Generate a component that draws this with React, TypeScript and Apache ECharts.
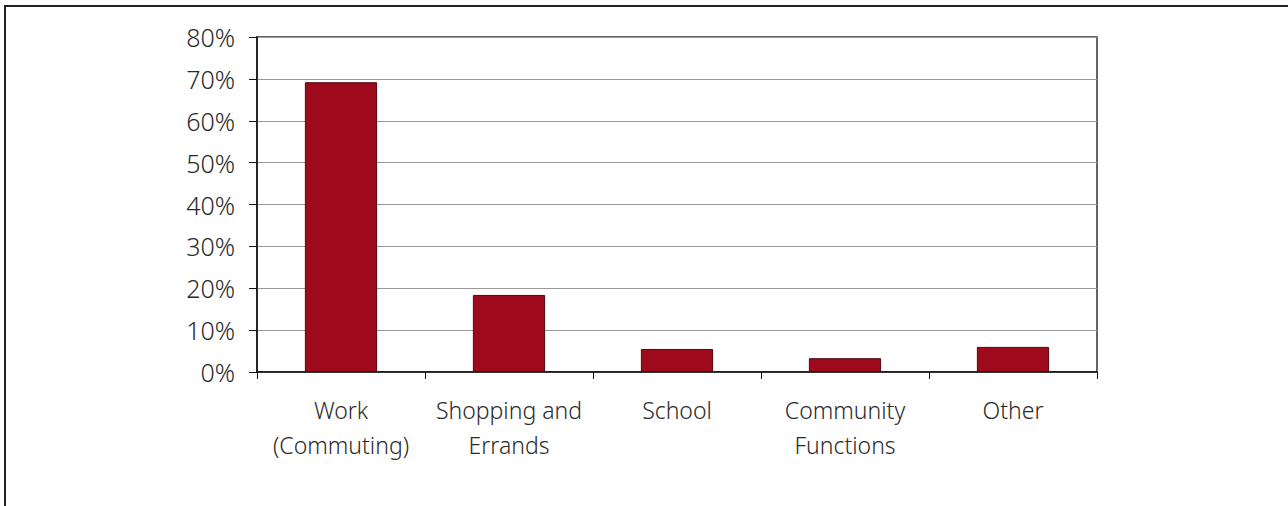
import React, { useEffect, useRef } from "react";
import * as echarts from "echarts";

const categories = ["Work\n(Commuting)", "Shopping and\nErrands", "School", "Community\nFunctions", "Other"];
const values = [69.2, 18.4, 5.5, 3.3, 6.0];
const yMin = 0;
const yMax = 80;
const yInterval = 10;

export default function App() {
  const ref = useRef<HTMLDivElement>(null);
  useEffect(() => {
    if (!ref.current) return;
    const chart = echarts.init(ref.current, null, { renderer: "svg" });
    const font = "'Noto Sans', 'Open Sans', sans-serif";
    chart.setOption({
      animation: false,
      backgroundColor: "#ffffff",
      graphic: [
        {
          type: "rect",
          shape: { x: 5, y: 6, width: 1400, height: 700 },
          style: { fill: "none", stroke: "#222", lineWidth: 2 },
          silent: true,
        },
      ],
      grid: {
        left: 257,
        right: 191,
        top: 37,
        bottom: 134,
        show: true,
        borderColor: "#333",
        borderWidth: 1.5,
        backgroundColor: "transparent",
      },
      xAxis: {
        type: "category",
        data: categories,
        axisLine: { show: true, lineStyle: { color: "#111", width: 1.5 } },
        axisTick: { show: true, length: 7, lineStyle: { color: "#111" } },
        axisLabel: {
          color: "#2a2a2a",
          fontSize: 23,
          fontWeight: 300,
          fontFamily: font,
          lineHeight: 35,
          margin: 20,
          interval: 0,
        },
      },
      yAxis: {
        type: "value",
        min: yMin,
        max: yMax,
        interval: yInterval,
        axisLine: { show: true, lineStyle: { color: "#111", width: 1.5 } },
        axisTick: { show: true, length: 8, lineStyle: { color: "#111" } },
        splitLine: { show: true, lineStyle: { color: "#999", width: 1 } },
        axisLabel: {
          color: "#2a2a2a",
          fontSize: 25,
          fontWeight: 300,
          fontFamily: font,
          margin: 22,
          formatter: "{value}%",
        },
      },
      series: [
        {
          type: "bar",
          data: values,
          barWidth: "43%",
          itemStyle: { color: "#9e0a1c", borderColor: "#4a0a10", borderWidth: 1 },
        },
      ],
    });
    return () => chart.dispose();
  }, []);
  return (
    <div
      ref={ref}
      style={{ position: "fixed", left: 0, top: 0, width: 1288, height: 506 }}
    />
  );
}
